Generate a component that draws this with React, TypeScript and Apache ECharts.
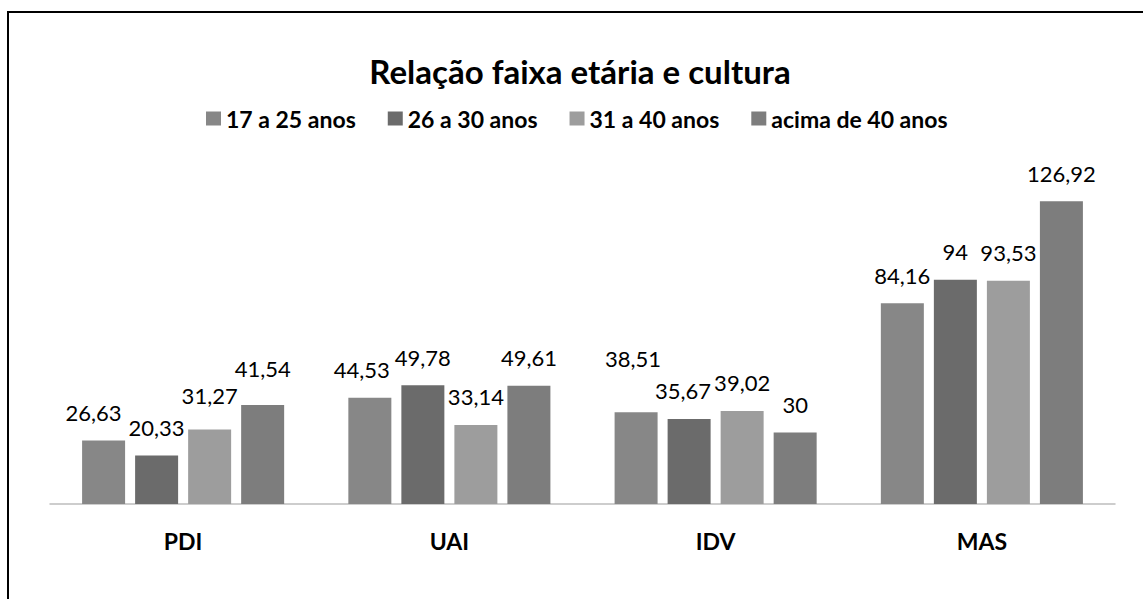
import React, { useEffect, useRef } from "react";
import * as echarts from "echarts";

const categories = ["PDI", "UAI", "IDV", "MAS"];
const seriesNames = ["17 a 25 anos", "26 a 30 anos", "31 a 40 anos", "acima de 40 anos"];
const age17to25 = [26.63, 44.53, 38.51, 84.16];
const age26to30 = [20.33, 49.78, 35.67, 94];
const age31to40 = [31.27, 33.14, 39.02, 93.53];
const above40 = [41.54, 49.61, 30, 126.92];
const titleText = "Relação faixa etária e cultura";

// label nudges (style only) per series, per category: [dx, dy]
const labelShift = [
  [[-10, 0], [-8, 0], [-3, -26], [0, 0]],
  [[0, 0], [0, 0], [-6, 0], [0, 0]],
  [[0, -6], [0, 0], [0, 0], [0, 0]],
  [[0, -8], [0, 0], [0, 0], [0, 0]],
];
const colors = ["#878787", "#6b6b6b", "#9d9d9d", "#7d7d7d"];

const FONT = "Lato";

export default function App() {
  const ref = useRef<HTMLDivElement>(null);
  useEffect(() => {
    if (!ref.current) return;
    const chart = echarts.init(ref.current, undefined, { renderer: "svg" });
    const all = [age17to25, age26to30, age31to40, above40];
    const series = all.map((vals, si) => ({
      name: seriesNames[si],
      type: "bar",
      barWidth: 43,
      barGap: "23.3%",
      itemStyle: { color: colors[si] },
      label: {
        show: true,
        position: "top",
        distance: 17,
        color: "#000",
        fontFamily: FONT,
        fontSize: 22,
        formatter: (p: any) => String(p.value).replace(".", ","),
      },
      data: vals.map((v, ci) => ({
        value: v,
        label: { offset: labelShift[si][ci] },
      })),
    }));
    chart.setOption({
      animation: false,
      color: colors,
      title: {
        text: titleText,
        left: 575,
        top: 49,
        textAlign: "center",
        textStyle: { fontFamily: FONT, fontSize: 33, fontWeight: "bold", color: "#000" },
      },
      legend: {
        left: 201,
        top: 102,
        itemWidth: 15,
        itemHeight: 14,
        itemGap: 32,
        icon: "rect",
        textStyle: { fontFamily: FONT, fontSize: 23, fontWeight: "bold", color: "#000" },
        data: seriesNames,
      },
      grid: { left: 50, right: 28, top: 170, height: 334 },
      xAxis: {
        type: "category",
        data: categories,
        axisTick: { show: false },
        axisLine: { lineStyle: { color: "#bdbdbd", width: 1.5 } },
        axisLabel: {
          fontFamily: FONT,
          fontSize: 23,
          fontWeight: "bold",
          color: "#000",
          margin: 25,
        },
      },
      yAxis: {
        type: "value",
        min: 0,
        max: 140,
        show: false,
        splitLine: { show: false },
      },
      series,
    });
    return () => chart.dispose();
  }, []);
  return (
    <div style={{ position: "fixed", left: 0, top: 0, width: 1143, height: 599, overflow: "hidden", background: "#fff" }}>
      <div
        style={{
          position: "absolute",
          left: 7,
          top: 11,
          width: 1400,
          height: 800,
          border: "2px solid #000",
          boxSizing: "border-box",
        }}
      />
      <div ref={ref} style={{ position: "absolute", left: 0, top: 0, width: 1143, height: 599 }} />
    </div>
  );
}
